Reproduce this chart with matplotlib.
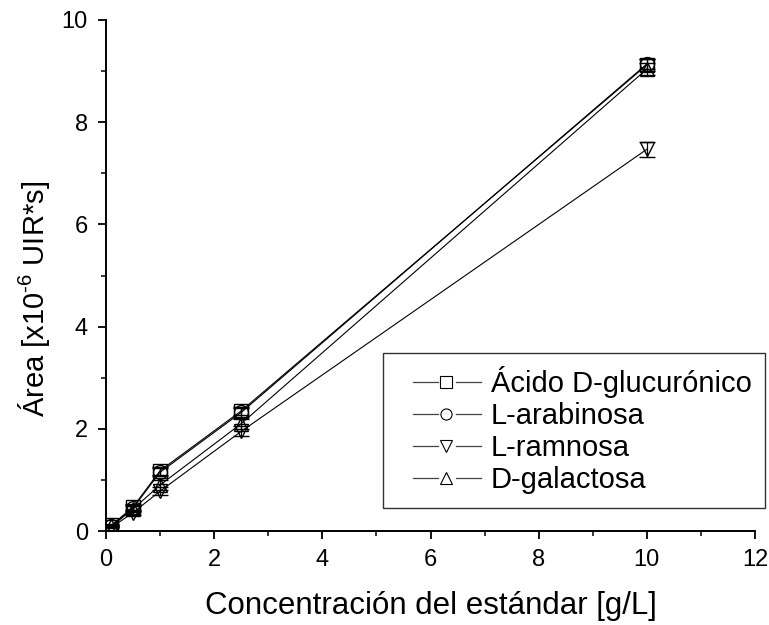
import matplotlib
matplotlib.use("Agg")
import matplotlib.pyplot as plt
from matplotlib.legend_handler import HandlerBase

plt.rcParams['font.family'] = ['Liberation Sans', 'DejaVu Sans']
plt.rcParams['mathtext.fontset'] = 'custom'
plt.rcParams['mathtext.rm'] = 'Liberation Sans'
plt.rcParams['mathtext.it'] = 'Liberation Sans'

# concentraciones del estandar [g/L]
conc = [0.1, 0.5, 1.0, 2.5, 10.0]

names = ["Ácido D-glucurónico", "L-arabinosa", "L-ramnosa", "D-galactosa"]
markers = ["s", "o", "v", "^"]

glucuronico = [0.11, 0.47, 1.18, 2.35, 9.12]
arabinosa = [0.10, 0.45, 1.15, 2.32, 9.14]
ramnosa = [0.07, 0.36, 0.78, 1.95, 7.47]
galactosa = [0.09, 0.43, 0.90, 2.10, 9.04]

err_glucuronico = [0.02, 0.05, 0.08, 0.08, 0.12]
err_arabinosa = [0.02, 0.05, 0.08, 0.08, 0.10]
err_ramnosa = [0.02, 0.05, 0.08, 0.10, 0.15]
err_galactosa = [0.02, 0.05, 0.10, 0.10, 0.12]

series = [glucuronico, arabinosa, ramnosa, galactosa]
errors = [err_glucuronico, err_arabinosa, err_ramnosa, err_galactosa]


# legend symbol like Origin: -- marker --, with some blank space in front
class GapHandler(HandlerBase):
    def create_artists(self, legend, orig_handle, xdescent, ydescent,
                       width, height, fontsize, trans):
        x0 = -xdescent
        y = height / 2 - ydescent
        p = lambda f: x0 + f * width
        l1 = plt.Line2D([p(0.20), p(0.49)], [y, y], color='#444444', lw=0.9)
        l2 = plt.Line2D([p(0.71), p(1.0)], [y, y], color='#444444', lw=0.9)
        mk = plt.Line2D([p(0.595)], [y], ls='none', marker=orig_handle.get_marker(),
                        ms=8, mfc='none', mec='black', mew=0.8)
        for a in (l1, l2, mk):
            a.set_transform(trans)
        return [l1, l2, mk]


fig = plt.figure(figsize=(7.69, 6.25), dpi=100)
ax = fig.add_axes([106 / 769, 94 / 625, 649 / 769, 511 / 625])

for y, e, m, n in zip(series, errors, markers, names):
    ax.errorbar(conc, y, yerr=e, fmt='-', color='black', lw=0.8,
                marker=m, ms=10, mfc='none', mec='black', mew=1.0,
                ecolor='black', elinewidth=0.9, capsize=5.5, capthick=0.9,
                label=n)

ax.set_xlim(0, 12)
ax.set_ylim(0, 10)
ax.set_xticks([0, 2, 4, 6, 8, 10, 12])
ax.set_xticks([1, 3, 5, 7, 9, 11], minor=True)
ax.set_yticks([0, 2, 4, 6, 8, 10])
ax.set_yticks([1, 3, 5, 7, 9], minor=True)
ax.spines['top'].set_visible(False)
ax.spines['right'].set_visible(False)
ax.spines['left'].set_linewidth(1.4)
ax.spines['bottom'].set_linewidth(1.4)
ax.tick_params(which='major', direction='out', length=6, width=1.3,
               labelsize=17, pad=7)
ax.tick_params(which='minor', direction='out', length=3.5, width=1.1)

ax.set_xlabel("Concentración del estándar [g/L]", fontsize=22.5)
ax.set_ylabel("Área [x10$^{\\text{-}6}$ UIR*s]", fontsize=21)
ax.xaxis.set_label_coords(0.5, -0.118)
ax.yaxis.set_label_coords(-0.083, 0.455)

handles = [plt.Line2D([], [], marker=m) for m in markers]
leg = ax.legend(handles, names, loc='upper left',
                bbox_to_anchor=(383 / 769, (625 - 353) / 625),
                bbox_transform=fig.transFigure, fontsize=21, frameon=True,
                fancybox=False, edgecolor='black', borderaxespad=0,
                handlelength=2.9, handletextpad=0.35, labelspacing=0.14,
                borderpad=0.45,
                handler_map={plt.Line2D: GapHandler()})
leg.get_frame().set_linewidth(1.0)

fig.savefig("out.png", dpi=100)
